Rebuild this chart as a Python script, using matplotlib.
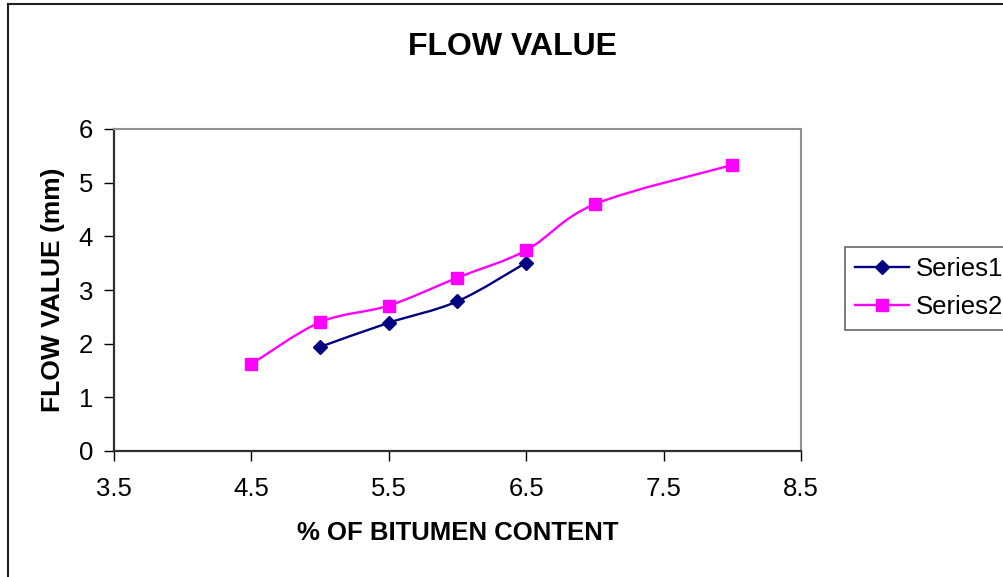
import numpy as np
import matplotlib
matplotlib.use("Agg")
import matplotlib.pyplot as plt
from matplotlib.path import Path
from matplotlib.patches import PathPatch
from matplotlib.lines import Line2D

plt.rcParams['font.family'] = ['Liberation Sans', 'DejaVu Sans']

# data
series1_x = [5.0, 5.5, 6.0, 6.5]
series1_y = [1.94, 2.39, 2.79, 3.51]
series2_x = [4.5, 5.0, 5.5, 6.0, 6.5, 7.0, 8.0]
series2_y = [1.62, 2.40, 2.71, 3.23, 3.74, 4.60, 5.33]
x_ticks = [3.5, 4.5, 5.5, 6.5, 7.5, 8.5]
y_ticks = [0, 1, 2, 3, 4, 5, 6]


# Excel-style smoothed line: cubic bezier through the points
def smooth_path(xs, ys):
    pts = np.column_stack([xs, ys]).astype(float)
    n = len(pts)
    verts = [pts[0]]
    codes = [Path.MOVETO]
    for i in range(n - 1):
        p0 = pts[i - 1] if i > 0 else pts[i]
        p1 = pts[i]
        p2 = pts[i + 1]
        p3 = pts[i + 2] if i + 2 < n else pts[i + 1]
        c1 = p1 + (p2 - p0) / 6.0
        c2 = p2 - (p3 - p1) / 6.0
        verts += [c1, c2, p2]
        codes += [Path.CURVE4] * 3
    return Path(verts, codes)


fig = plt.figure(figsize=(10.04, 5.77), dpi=100)
ax = fig.add_axes([114 / 1004, 1 - 451 / 577, 687 / 1004, 322 / 577])

for xs, ys, color, marker, ms, label in [
    (series1_x, series1_y, '#000080', 'D', 7.5, 'Series1'),
    (series2_x, series2_y, '#FF00FF', 's', 9, 'Series2'),
]:
    ax.add_patch(PathPatch(smooth_path(xs, ys), facecolor='none',
                           edgecolor=color, lw=1.7, zorder=2))
    ax.plot(xs, ys, linestyle='none', marker=marker, color=color,
            markersize=ms, zorder=3)
    ax.plot([], [], color=color, lw=1.7, marker=marker, markersize=ms, label=label)

ax.set_xlim(3.5, 8.5)
ax.set_ylim(0, 6)
ax.set_xticks(x_ticks)
ax.set_yticks(y_ticks)
ax.set_xticklabels([str(t) for t in x_ticks])
ax.tick_params(direction='out', length=7, width=1, labelsize=18.5, colors='#000000')
ax.tick_params(axis='x', pad=12)
ax.tick_params(axis='y', pad=8)

for side in ['left', 'bottom']:
    ax.spines[side].set_color('#303030')
    ax.spines[side].set_linewidth(1.6)
for side in ['top', 'right']:
    ax.spines[side].set_color('#909090')
    ax.spines[side].set_linewidth(1.5)

ax.set_xlabel('% OF BITUMEN CONTENT', fontsize=18.5, fontweight='bold', labelpad=14)
ax.set_ylabel('FLOW VALUE (mm)', fontsize=19, fontweight='bold', labelpad=10)
fig.text(513 / 1004, 1 - 47 / 577, 'FLOW VALUE', fontsize=23, fontweight='bold',
         ha='center', va='center')

leg = fig.legend(loc='upper left', bbox_to_anchor=(845 / 1004, 1 - 247 / 577),
                 fontsize=18.5, frameon=True, fancybox=False, borderaxespad=0,
                 handlelength=2.1, handletextpad=0.25, labelspacing=0.55,
                 borderpad=0.4)
leg.get_frame().set_edgecolor('#404040')
leg.get_frame().set_linewidth(1.2)

# outer chart border (left and top only visible)
fig.add_artist(Line2D([8 / 1004, 8 / 1004], [0, 1 - 4 / 577], color='#202020', lw=1.5))
fig.add_artist(Line2D([8 / 1004, 1], [1 - 4 / 577, 1 - 4 / 577], color='#202020', lw=1.5))

fig.savefig('out.png', dpi=100)
